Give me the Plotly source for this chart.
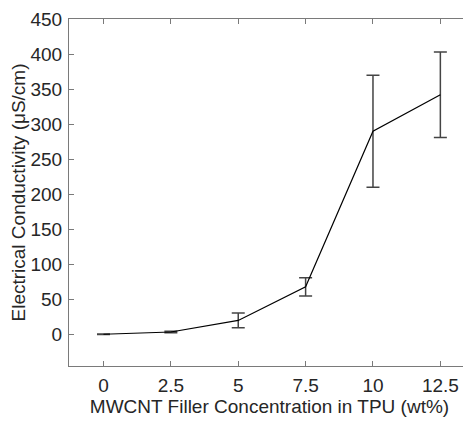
import plotly.graph_objects as go

# filler concentration (wt%) and measured conductivity (uS/cm)
conc = [0, 2.5, 5, 7.5, 10, 12.5]
cond = [0.3, 3.5, 20, 68, 290, 342]
cond_err = [0.5, 1, 10.5, 13, 80, 61]
x_ticks = [0, 2.5, 5, 7.5, 10, 12.5]
y_ticks = [0, 50, 100, 150, 200, 250, 300, 350, 400, 450]

FONT = dict(family="Liberation Sans, Arial", size=19, color="#262626")

fig = go.Figure()
fig.add_trace(go.Scatter(
    x=conc, y=cond, mode="lines",
    line=dict(color="black", width=1.2),
    error_y=dict(type="data", array=cond_err, visible=True,
                 color="#444444", thickness=1.5, width=6.5),
    showlegend=False,
))

axis_common = dict(
    showline=True, linecolor="#7a7a7a", linewidth=1.2, mirror="ticks",
    ticks="inside", ticklen=5, tickcolor="#7a7a7a", tickwidth=1,
    showgrid=False, zeroline=False, automargin=False,
    tickfont=FONT, ticklabeloverflow="allow",
)

# page body has an 8px margin, so the figure is shrunk by that amount
fig.update_layout(
    width=463, height=413,
    margin=dict(l=61, r=1, t=11, b=55),
    paper_bgcolor="white", plot_bgcolor="white",
    xaxis=dict(range=[-1.28, 13.6], tickvals=x_ticks,
               ticktext=[str(v) for v in x_ticks], ticklabelstandoff=2,
               title=dict(text="MWCNT Filler Concentration in TPU (wt%)", standoff=4, font=FONT),
               **axis_common),
    yaxis=dict(range=[-45, 450.2], tickvals=y_ticks, ticklabelstandoff=2,
               title=dict(text="Electrical Conductivity (μS/cm)", standoff=4, font=FONT),
               **axis_common),
)

fig.write_html("out.html")
